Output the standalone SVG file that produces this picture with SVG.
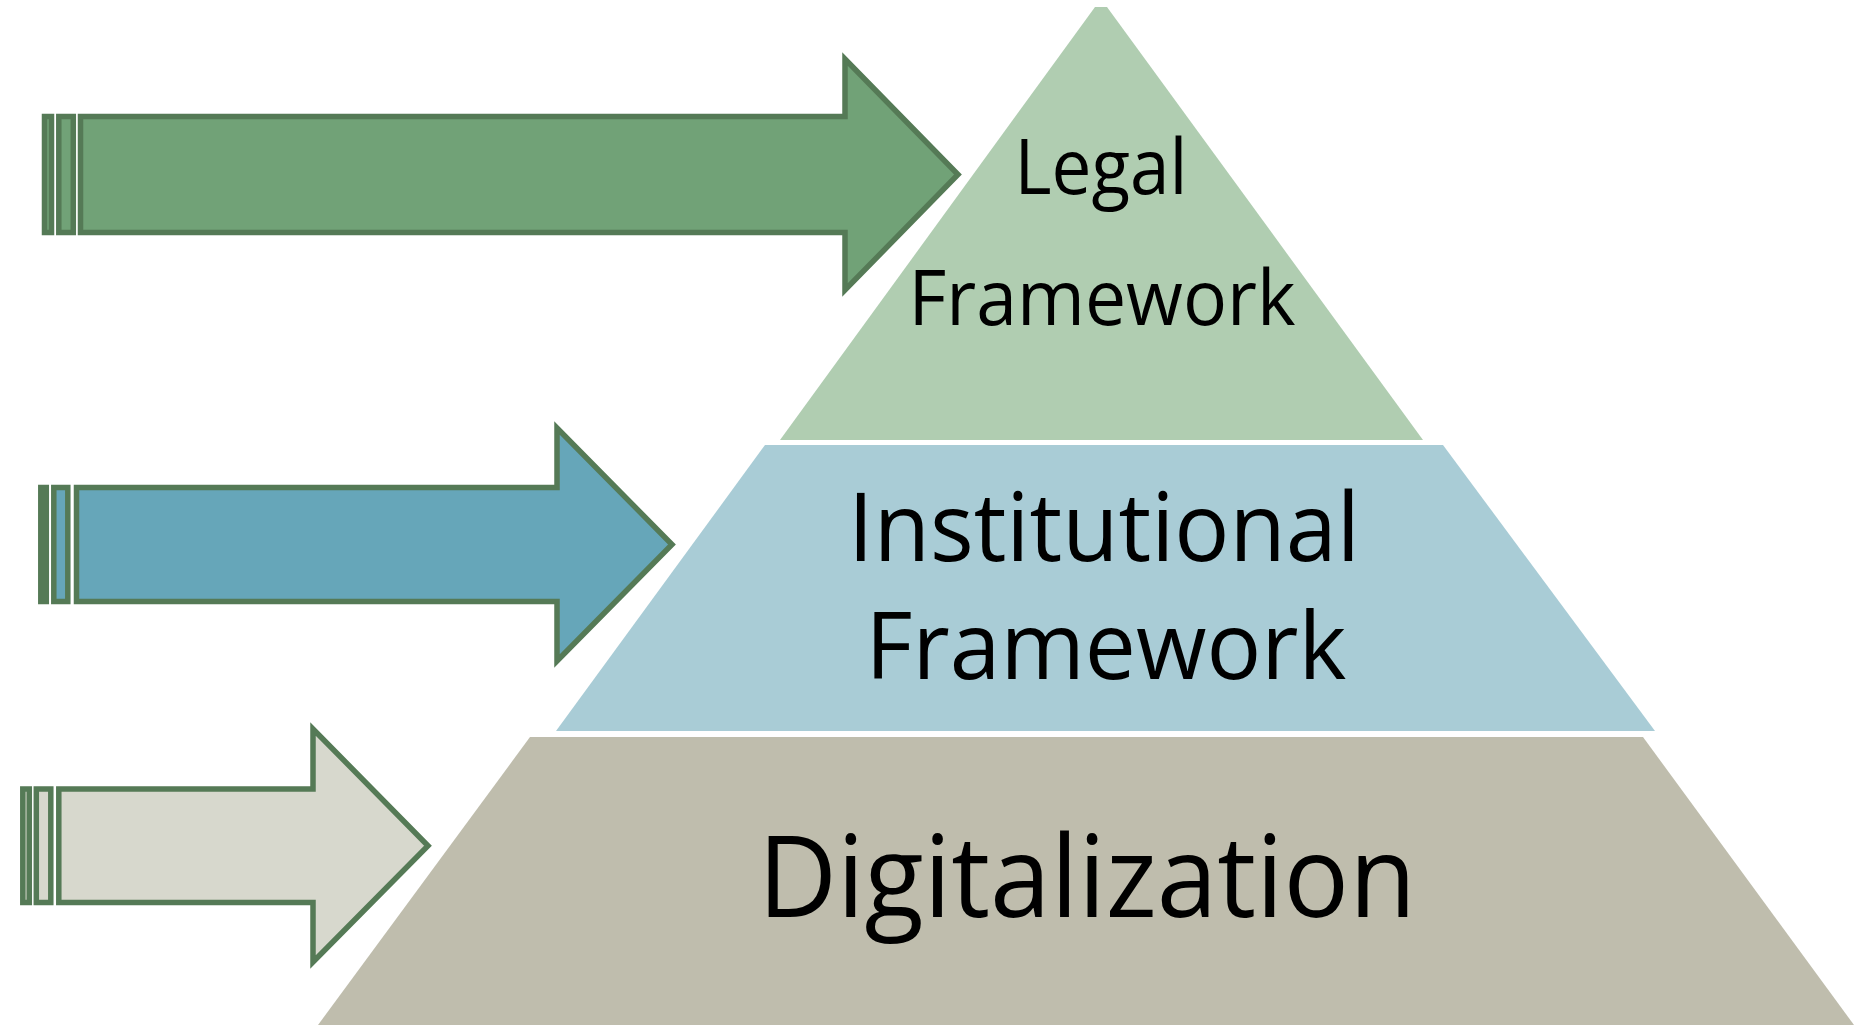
<svg xmlns="http://www.w3.org/2000/svg" width="1868" height="1025" viewBox="0 0 1868 1025">
<style>
.arrow{stroke:#557a56;stroke-width:5.5;stroke-linejoin:miter}
.lbl{font-family:"Open Sans","Liberation Sans",sans-serif;fill:#000;text-anchor:middle}
</style>
<rect width="1868" height="1025" fill="#ffffff"/>
<g id="connectors">
  <g id="arrow-legal">
    <rect class="arrow" x="44.5" y="116.5" width="7" height="116" fill="#71a277"/>
    <rect class="arrow" x="58.8" y="116.5" width="14.5" height="116" fill="#71a277"/>
    <path class="arrow" d="M80.5,116.5 H845 V59 L958,174.5 L845,290 V232.5 H80.5 Z" fill="#71a277"/>
  </g>
  <g id="arrow-institutional">
    <rect class="arrow" x="40.8" y="487.5" width="5.5" height="114" fill="#66a6b9"/>
    <rect class="arrow" x="53.8" y="487.5" width="14" height="114" fill="#66a6b9"/>
    <path class="arrow" d="M76.5,487.5 H557 V428 L672,544.5 L557,661 V601.5 H76.5 Z" fill="#66a6b9"/>
  </g>
  <g id="arrow-digitalization">
    <rect class="arrow" x="22.8" y="789" width="6.5" height="113.5" fill="#d7d8cd"/>
    <rect class="arrow" x="36.3" y="789" width="14.5" height="113.5" fill="#d7d8cd"/>
    <path class="arrow" d="M58.8,789 H313 V729 L428,845.7 L313,962 V902.5 H58.8 Z" fill="#d7d8cd"/>
  </g>
</g>
<g id="node-legal">
  <polygon points="1095,7 1107,7 1423,440 780,440" fill="#b0cdb1"/>
  <text class="lbl" x="1101" y="194" font-size="76" textLength="173" lengthAdjust="spacingAndGlyphs">Legal</text>
  <text class="lbl" x="1102" y="325" font-size="76" textLength="387" lengthAdjust="spacingAndGlyphs">Framework</text>
</g>
<g id="node-institutional">
  <polygon points="765,445 1443,445 1655,731 556,731" fill="#a9ccd6"/>
  <text class="lbl" x="1104" y="561" font-size="95" textLength="512" lengthAdjust="spacingAndGlyphs">Institutional</text>
  <text class="lbl" x="1106" y="679" font-size="93" textLength="481" lengthAdjust="spacingAndGlyphs">Framework</text>
</g>
<g id="node-digitalization">
  <polygon points="530,737 1643,737 1854,1025 318,1025" fill="#bfbdad"/>
  <text class="lbl" x="1087" y="917" font-size="114" textLength="658" lengthAdjust="spacingAndGlyphs">Digitalization</text>
</g>
</svg>
